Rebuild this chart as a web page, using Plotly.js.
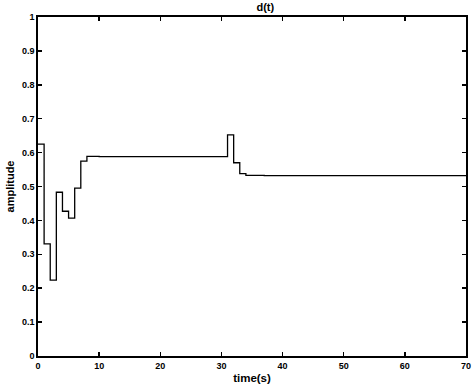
<!DOCTYPE html>
<html>
<head>
<meta charset="utf-8">
<script src="https://cdn.plot.ly/plotly-3.0.1.min.js"></script>
<style>html,body{margin:0;padding:0;background:#fff;}#chart{width:474px;height:390px;}</style>
</head>
<body>
<div id="chart"></div>
<script>
// step change times (s) and held amplitude values
var times = [0, 1, 2, 3, 4, 5, 6, 7, 8, 10, 31, 32, 33, 34, 37, 70];
var amplitude = [0.625, 0.331, 0.224, 0.483, 0.427, 0.407, 0.495, 0.575, 0.589, 0.588, 0.652, 0.570, 0.538, 0.533, 0.532, 0.532];
var xTicks = [0, 10, 20, 30, 40, 50, 60, 70];
var yTicks = [0, 0.1, 0.2, 0.3, 0.4, 0.5, 0.6, 0.7, 0.8, 0.9, 1];
var yTickText = ['0', '0.1', '0.2', '0.3', '0.4', '0.5', '0.6', '0.7', '0.8', '0.9', '1'];

var font = 'Liberation Sans, Arial, sans-serif';
var trace = {
  x: times, y: amplitude, type: 'scatter', mode: 'lines',
  line: {shape: 'hv', color: '#000', width: 1.3},
  hoverinfo: 'skip'
};
var layout = {
  width: 474, height: 390,
  margin: {l: 38, r: 8, t: 17, b: 34},
  paper_bgcolor: '#fff', plot_bgcolor: '#fff',
  showlegend: false,
  title: {text: '<b>d(t)</b>', font: {family: font, size: 11, color: '#000'},
          x: 0.531, xref: 'paper', xanchor: 'center', y: 0.982, yref: 'container', yanchor: 'middle'},
  xaxis: {
    range: [0, 70], tickvals: xTicks, ticktext: xTicks.map(String),
    ticks: 'inside', ticklen: 4, tickwidth: 1.5, tickcolor: '#000',
    showline: true, linecolor: '#000', linewidth: 1.8, mirror: 'ticks',
    showgrid: false, zeroline: false, automargin: false,
    tickfont: {family: font, size: 9, color: '#000', weight: 'bold'},
    title: {text: '<b>time(s)</b>', font: {family: font, size: 11.5, color: '#000'}, standoff: 4}
  },
  yaxis: {
    range: [0, 1], tickvals: yTicks, ticktext: yTickText,
    ticks: 'inside', ticklen: 4, tickwidth: 1.5, tickcolor: '#000',
    showline: true, linecolor: '#000', linewidth: 1.8, mirror: 'ticks',
    showgrid: false, zeroline: false, automargin: false,
    tickfont: {family: font, size: 9, color: '#000', weight: 'bold'},
    title: {text: '<b>amplitude</b>', font: {family: font, size: 11, color: '#000'}, standoff: 5}
  }
};
Plotly.newPlot('chart', [trace], layout, {staticPlot: true, displayModeBar: false});
</script>
</body>
</html>
